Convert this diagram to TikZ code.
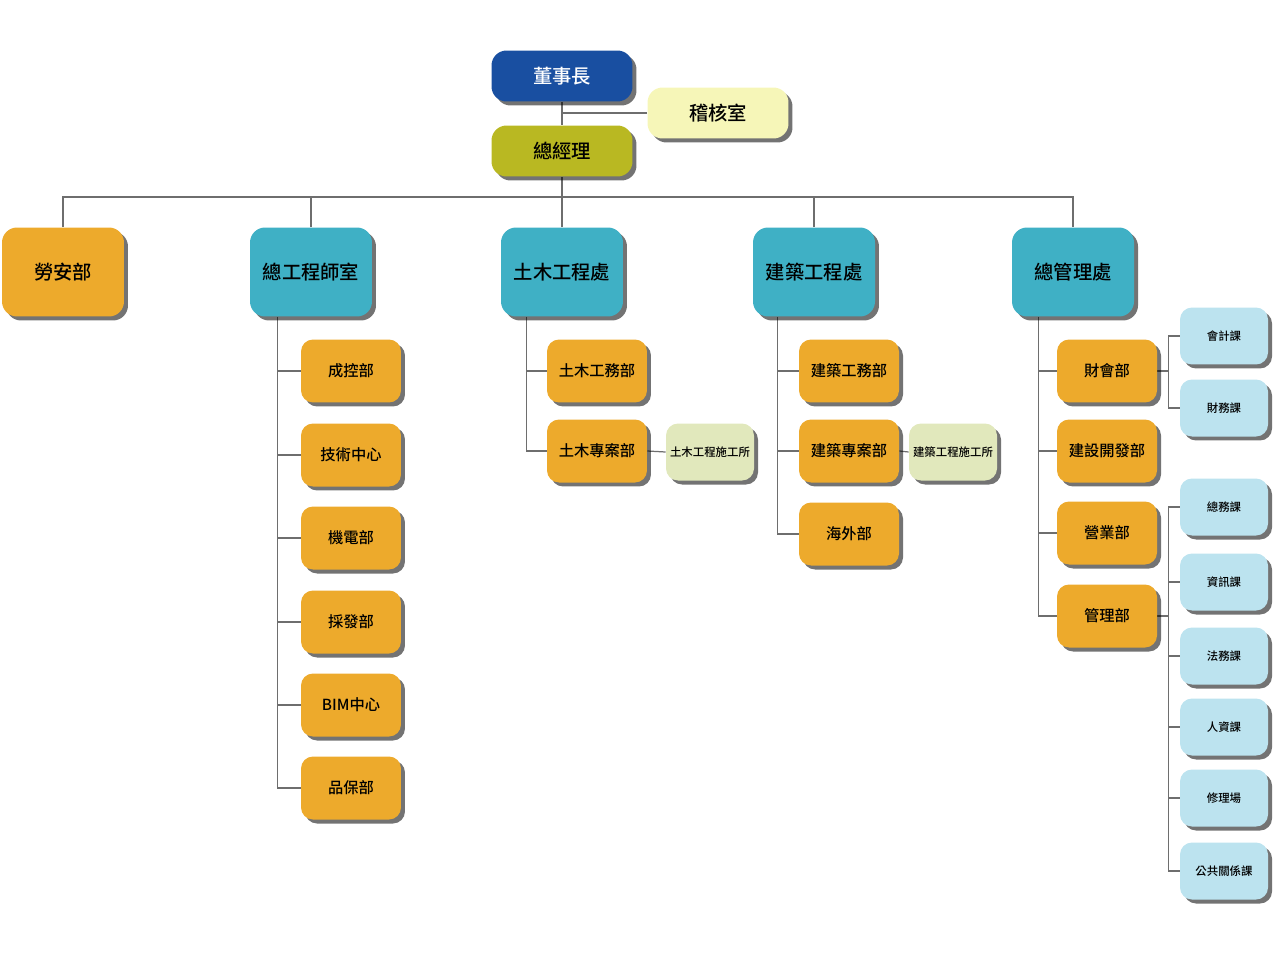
\documentclass[tikz,border=0pt]{standalone}
\usepackage{fontspec}
\newfontfamily\cjk{Noto Sans CJK TC}[UprightFont=* Medium]
\usetikzlibrary{shadows,backgrounds}
\definecolor{chairblue}{RGB}{25,79,161}
\definecolor{ceoolive}{RGB}{185,184,34}
\definecolor{audityellow}{RGB}{246,246,184}
\definecolor{deptorange}{RGB}{237,170,44}
\definecolor{unitteal}{RGB}{63,176,197}
\definecolor{sitegreen}{RGB}{225,232,188}
\definecolor{secblue}{RGB}{188,227,239}
\definecolor{linegray}{RGB}{110,110,110}
\begin{document}
\begin{tikzpicture}[x=0.02cm,y=-0.02cm,
  box/.style={rounded corners=0.3cm,inner sep=0pt,align=center,
    drop shadow={shadow xshift=0.08cm,shadow yshift=-0.08cm,fill=black,opacity=0.55}},
  headbox/.style={box,minimum width=2.82cm,minimum height=1.02cm,font=\cjk\fontsize{11}{13}\selectfont},
  unitbox/.style={box,minimum width=2.44cm,minimum height=1.78cm,font=\cjk\fontsize{11}{13}\selectfont},
  deptbox/.style={box,rounded corners=0.24cm,minimum width=2cm,minimum height=1.26cm,fill=deptorange,font=\cjk\fontsize{8.7}{10}\selectfont},
  secbox/.style={box,rounded corners=0.24cm,minimum width=1.76cm,minimum height=1.14cm,font=\cjk\fontsize{6.5}{8}\selectfont},
  link/.style={draw=linegray,line width=0.7pt}]
\useasboundingbox (0,0) rectangle (1274,960);

\node[headbox,fill=chairblue,text=white] (dsz) at (562,76) {董事長};
\node[headbox,fill=audityellow] (jhs) at (718,113) {稽核室};
\node[headbox,fill=ceoolive] (zjl) at (562,151) {總經理};
\coordinate (bus) at (562,197);

\node[unitbox,fill=deptorange] (las) at (63,272) {勞安部};
\node[unitbox,fill=unitteal] (zgc) at (311,272) {總工程師室};
\node[unitbox,fill=unitteal] (tmc) at (562,272) {土木工程處};
\node[unitbox,fill=unitteal] (jzc) at (814,272) {建築工程處};
\node[unitbox,fill=unitteal] (zgl) at (1073,272) {總管理處};

\node[deptbox] (ck) at (351,371) {成控部};
\node[deptbox] (js) at (351,455) {技術中心};
\node[deptbox] (jd) at (351,538) {機電部};
\node[deptbox] (cf) at (351,622) {採發部};
\node[deptbox] (bim) at (351,705) {BIM中心};
\node[deptbox] (pb) at (351,788) {品保部};

\node[deptbox] (tmgw) at (597,371) {土木工務部};
\node[deptbox] (tmza) at (597,451) {土木專案部};
\node[secbox,fill=sitegreen] (tmsg) at (710,452) {土木工程施工所};

\node[deptbox] (jzgw) at (849,371) {建築工務部};
\node[deptbox] (jzza) at (849,451) {建築專案部};
\node[deptbox] (hw) at (849,534) {海外部};
\node[secbox,fill=sitegreen] (jzsg) at (953,452) {建築工程施工所};

\node[deptbox] (chb) at (1107,371) {財會部};
\node[deptbox] (jskf) at (1107,451) {建設開發部};
\node[deptbox] (yy) at (1107,533) {營業部};
\node[deptbox] (glb) at (1107,616) {管理部};

\node[secbox,fill=secblue] (kj) at (1224,336) {會計課};
\node[secbox,fill=secblue] (cw) at (1224,408) {財務課};
\node[secbox,fill=secblue] (zw) at (1224,507) {總務課};
\node[secbox,fill=secblue] (zx) at (1224,582) {資訊課};
\node[secbox,fill=secblue] (fw) at (1224,656) {法務課};
\node[secbox,fill=secblue] (rz) at (1224,727) {人資課};
\node[secbox,fill=secblue] (xlc) at (1224,798) {修理場};
\node[secbox,fill=secblue] (ggx) at (1224,871) {公共關係課};

\coordinate (zgcL) at ([xshift=0.56cm]zgc.south west);
\coordinate (tmcL) at ([xshift=0.52cm]tmc.south west);
\coordinate (jzcL) at ([xshift=0.5cm]jzc.south west);
\coordinate (zglL) at ([xshift=0.54cm]zgl.south west);
\coordinate (chbR) at ([xshift=0.22cm]chb.east);
\coordinate (glbR) at ([xshift=0.22cm]glb.east);

\begin{scope}[on background layer]
\draw[link] (dsz.south) -- (zjl.north);
\draw[link] (jhs.west) -- (jhs.west -| dsz.south);
\draw[link] (zjl.south) -- (bus);
\draw[link] (las.north) |- (bus) -| (zgl.north);
\draw[link] (zgc.north) -- (zgc.north |- bus);
\draw[link] (tmc.north) -- (tmc.north |- bus);
\draw[link] (jzc.north) -- (jzc.north |- bus);

\draw[link] (zgcL) |- (ck.west) (zgcL) |- (js.west) (zgcL) |- (jd.west)
  (zgcL) |- (cf.west) (zgcL) |- (bim.west) (zgcL) |- (pb.west);
\draw[link] (tmcL) |- (tmgw.west) (tmcL) |- (tmza.west);
\draw[link] (tmza.east) -- (tmsg.west);
\draw[link] (jzcL) |- (jzgw.west) (jzcL) |- (jzza.west) (jzcL) |- (hw.west);
\draw[link] (jzza.east) -- (jzsg.west);
\draw[link] (zglL) |- (chb.west) (zglL) |- (jskf.west) (zglL) |- (yy.west) (zglL) |- (glb.west);

\draw[link] (chb.east) -- (chbR);
\draw[link] (chbR) |- (kj.west) (chbR) |- (cw.west);
\draw[link] (glb.east) -- (glbR);
\draw[link] (glbR) |- (zw.west) (glbR) |- (zx.west) (glbR) |- (fw.west)
  (glbR) |- (rz.west) (glbR) |- (xlc.west) (glbR) |- (ggx.west);
\end{scope}
\end{tikzpicture}
\end{document}
